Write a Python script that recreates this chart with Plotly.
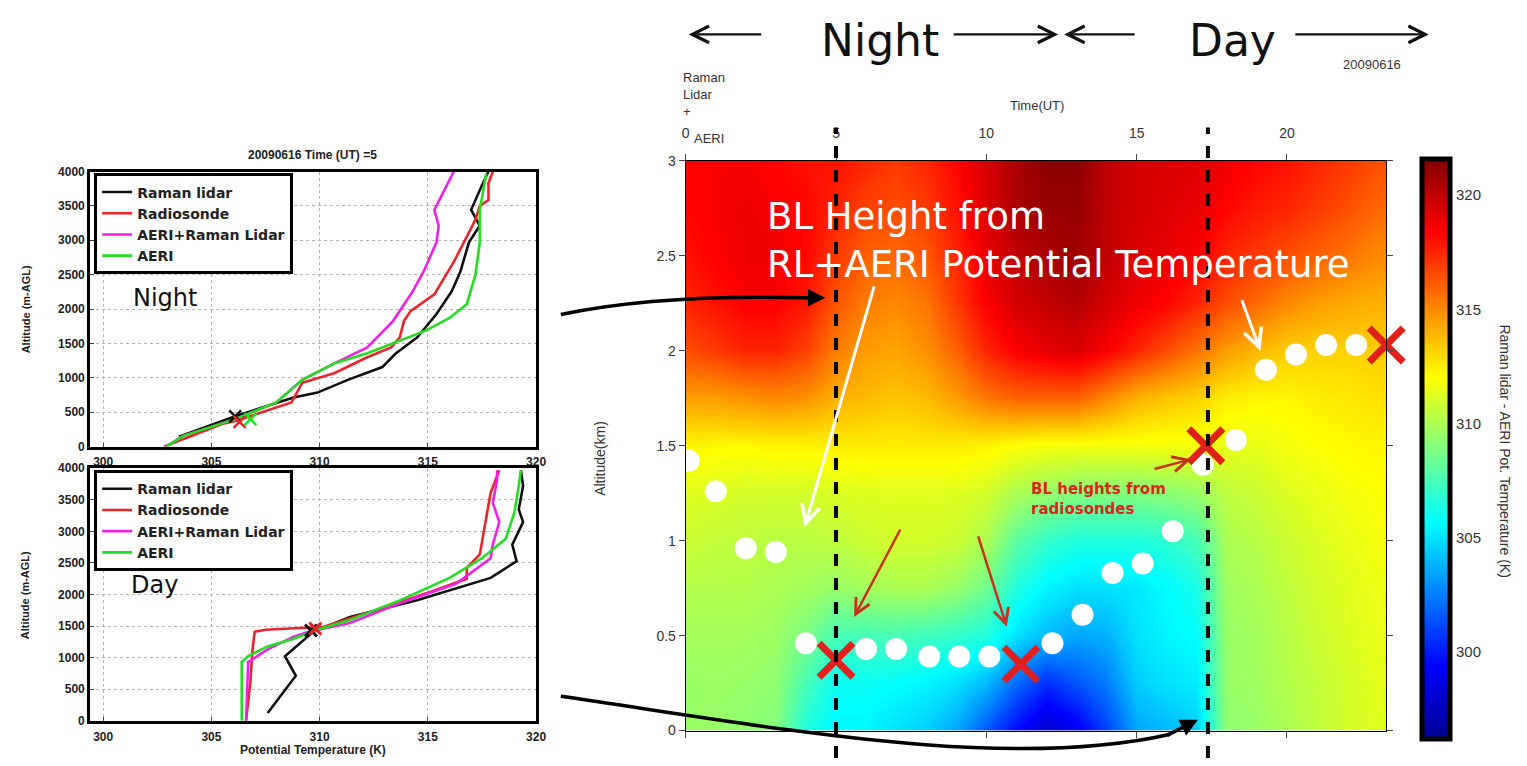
import plotly.graph_objects as go

W, H = 1527, 766
def px(x): return x / W
def py(y): return 1 - y / H

# ---------------- data: left panels (potential temperature profiles) ----------------
night_raman_T = [303.5, 306.1, 308.8, 309.9, 311.3, 312.9, 313.5, 314.5, 315.4, 316.1, 316.5, 316.9, 317.4, 317.0, 317.5, 317.8]
night_raman_z = [143, 443, 714, 786, 971, 1157, 1350, 1586, 1929, 2257, 2543, 2971, 3214, 3443, 3800, 4000]
night_sonde_T = [302.8, 304.0, 305.5, 306.2, 307.5, 308.7, 309.2, 310.7, 312.2, 313.3, 313.7, 313.9, 314.2, 315.3, 316.2, 316.9, 317.2, 317.4, 317.8, 317.8, 318.0]
night_sonde_z = [0, 150, 330, 380, 520, 643, 929, 1071, 1300, 1443, 1586, 1829, 1971, 2214, 2686, 3114, 3300, 3500, 3586, 3829, 4000]
night_aerirl_T = [302.9, 303.7, 306.1, 308.0, 309.2, 310.7, 312.2, 313.4, 314.3, 314.8, 315.4, 315.5, 315.3, 315.7, 316.2]
night_aerirl_z = [0, 157, 400, 643, 971, 1214, 1443, 1829, 2257, 2543, 2971, 3214, 3443, 3686, 4000]
night_aeri_T = [302.9, 303.7, 306.1, 308.0, 309.2, 310.7, 312.2, 313.7, 314.9, 316.0, 316.8, 317.2, 317.4, 317.4, 317.7]
night_aeri_z = [0, 157, 400, 643, 971, 1214, 1357, 1543, 1686, 1871, 2071, 2500, 2971, 3443, 3971]

day_raman_T = [307.6, 308.9, 308.4, 309.2, 309.7, 311.4, 314.5, 317.9, 319.1, 318.9, 319.4, 319.2, 319.4, 319.3]
day_raman_z = [124, 713, 1023, 1256, 1410, 1643, 1907, 2263, 2527, 2790, 3146, 3348, 3720, 3968]
day_sonde_T = [306.6, 306.8, 306.9, 307.0, 307.5, 309.2, 310.2, 313.0, 315.3, 316.8, 316.8, 317.4, 317.7, 317.9, 318.3]
day_sonde_z = [0, 620, 1131, 1410, 1442, 1470, 1490, 1798, 2062, 2248, 2418, 2635, 3193, 3611, 3968]
day_aerirl_T = [306.6, 306.7, 307.6, 308.8, 309.5, 311.4, 313.7, 316.3, 317.9, 318.0, 318.3, 318.0, 318.2, 318.2]
day_aerirl_z = [0, 930, 1131, 1333, 1410, 1550, 1860, 2170, 2573, 2790, 3146, 3456, 3813, 3968]
day_aeri_T = [306.4, 306.4, 306.7, 307.6, 308.7, 309.5, 309.9, 311.4, 313.7, 316.0, 317.5, 318.6, 319.0, 319.2, 319.3]
day_aeri_z = [0, 930, 1023, 1178, 1287, 1395, 1442, 1597, 1907, 2263, 2573, 2883, 3301, 3720, 3968]

series_names = ["Raman lidar", "Radiosonde", "AERI+Raman Lidar", "AERI"]
series_colors = ["#111111", "#e8262a", "#ee22e6", "#22dd22"]

# ---------------- data: right panel (time-height potential temperature) ----------------
hours = list(range(24))
alt_km = [0, 0.25, 0.5, 0.75, 1.0, 1.25, 1.5, 1.75, 2.0, 2.25, 2.5, 2.75, 3.0]
theta_by_hour = [
    [309.5, 309.5, 309.8, 310.2, 310.8, 311.3, 312.3, 314.5, 316.5, 317.5, 318.0, 318.3, 318.5],
    [309.5, 309.6, 309.8, 310.2, 310.6, 311.2, 312.2, 314.5, 317.0, 318.0, 318.5, 318.6, 318.6],
    [309.3, 309.5, 309.8, 310.2, 310.5, 311.0, 312.2, 314.8, 317.5, 318.5, 318.8, 318.8, 318.6],
    [309.0, 309.3, 309.6, 310.0, 310.4, 311.0, 312.3, 315.0, 317.5, 318.5, 318.8, 318.6, 318.3],
    [306.5, 307.5, 308.8, 309.8, 310.4, 311.0, 312.3, 314.8, 316.8, 317.8, 318.3, 318.3, 318.0],
    [305.5, 306.0, 307.5, 309.5, 310.5, 311.2, 312.5, 314.0, 315.3, 316.3, 317.0, 317.5, 318.0],
    [305.5, 306.0, 307.5, 309.8, 310.8, 311.3, 312.5, 313.8, 314.5, 315.3, 316.0, 316.8, 317.5],
    [305.0, 305.8, 307.5, 310.0, 311.0, 311.3, 312.5, 313.5, 314.3, 315.0, 315.8, 316.5, 317.0],
    [304.5, 305.5, 307.3, 310.0, 311.0, 311.3, 312.5, 313.8, 314.8, 315.5, 316.3, 317.0, 317.5],
    [303.5, 305.0, 307.0, 309.5, 310.8, 311.3, 312.5, 314.5, 316.0, 317.0, 317.5, 318.0, 318.3],
    [301.5, 304.0, 306.5, 308.5, 310.0, 311.0, 312.3, 315.5, 317.5, 318.5, 319.0, 319.3, 319.5],
    [299.5, 302.0, 305.0, 306.5, 308.0, 310.0, 312.0, 316.0, 318.5, 319.5, 320.0, 320.5, 320.5],
    [298.0, 300.5, 304.0, 305.5, 307.0, 309.5, 311.8, 316.0, 319.0, 320.0, 320.5, 321.0, 321.3],
    [299.0, 301.5, 303.5, 305.0, 306.5, 309.0, 311.8, 316.0, 319.3, 320.3, 320.8, 321.0, 321.3],
    [301.0, 302.5, 303.8, 305.0, 306.5, 309.0, 311.8, 315.0, 318.5, 319.5, 320.0, 320.0, 320.0],
    [303.5, 304.5, 305.0, 305.2, 306.5, 309.0, 311.8, 314.0, 317.5, 318.8, 319.3, 319.5, 319.5],
    [304.0, 305.0, 305.5, 305.7, 306.8, 309.2, 311.8, 313.5, 316.5, 318.3, 319.0, 319.2, 319.3],
    [304.5, 305.3, 305.8, 306.3, 307.5, 309.5, 311.8, 313.2, 315.5, 317.5, 318.5, 319.0, 319.2],
    [309.3, 309.5, 309.5, 309.7, 310.0, 310.5, 311.5, 312.5, 314.5, 316.5, 317.5, 318.3, 318.8],
    [309.5, 309.7, 309.8, 310.0, 310.3, 310.8, 311.5, 312.3, 313.8, 315.8, 317.0, 317.8, 318.3],
    [310.0, 310.2, 310.3, 310.5, 310.8, 311.2, 311.8, 312.3, 313.3, 315.0, 316.5, 317.5, 318.0],
    [310.5, 310.6, 310.8, 311.0, 311.2, 311.5, 312.0, 312.5, 313.2, 314.5, 316.0, 317.0, 317.5],
    [311.0, 311.0, 311.2, 311.3, 311.5, 311.8, 312.2, 312.6, 313.2, 314.2, 315.5, 316.5, 317.0],
    [311.3, 311.4, 311.5, 311.6, 311.8, 312.0, 312.3, 312.8, 313.3, 314.0, 315.0, 315.8, 316.5],
]
bl_rl_time = [0.1, 1.0, 2.0, 3.0, 4.0, 6.0, 7.0, 8.1, 9.1, 10.1, 12.2, 13.2, 14.2, 15.2, 16.2, 17.2, 18.3, 19.3, 20.3, 21.3, 22.3]
bl_rl_height = [1.42, 1.26, 0.96, 0.94, 0.46, 0.43, 0.43, 0.39, 0.39, 0.39, 0.46, 0.61, 0.83, 0.88, 1.05, 1.40, 1.53, 1.90, 1.98, 2.03, 2.03]
bl_sonde_time = [5.0, 11.15, 17.3, 23.3]
bl_sonde_height = [0.37, 0.35, 1.50, 2.03]
sonde_times = [5.0, 17.37]

z_grid = [list(row) for row in zip(*theta_by_hour)]  # rows = altitude, cols = hour

jet = [[0.0, "#00008f"], [0.125, "#0000ff"], [0.375, "#00ffff"], [0.625, "#ffff00"], [0.875, "#ff0000"], [1.0, "#800000"]]

fig = go.Figure()

panels = [
    ("x", "y", "legend", [(night_raman_T, night_raman_z), (night_sonde_T, night_sonde_z), (night_aerirl_T, night_aerirl_z), (night_aeri_T, night_aeri_z)]),
    ("x2", "y2", "legend2", [(day_raman_T, day_raman_z), (day_sonde_T, day_sonde_z), (day_aerirl_T, day_aerirl_z), (day_aeri_T, day_aeri_z)]),
]
for xa, ya, lg, curves in panels:
    for (T, z), name, col in zip(curves, series_names, series_colors):
        fig.add_trace(go.Scatter(x=T, y=z, mode="lines", name=name, line=dict(color=col, width=2.6),
                                 xaxis=xa, yaxis=ya, legend=lg))

fig.add_trace(go.Scatter(x=[306.1, 306.3, 306.8], y=[440, 360, 400], mode="markers", showlegend=False,
                         marker=dict(symbol="x-thin", size=12, line=dict(width=2.5, color=["#111111", "#e8262a", "#22dd22"])),
                         xaxis="x", yaxis="y"))
fig.add_trace(go.Scatter(x=[309.6, 309.8], y=[1430, 1460], mode="markers", showlegend=False,
                         marker=dict(symbol="x-thin", size=12, line=dict(width=3, color=["#111111", "#e8262a"])),
                         xaxis="x2", yaxis="y2"))

fig.add_trace(go.Heatmap(x=hours, y=alt_km, z=z_grid, zsmooth="best", colorscale=jet, zmin=296.2, zmax=321.6,
                         xaxis="x3", yaxis="y3", showscale=True,
                         colorbar=dict(x=px(1431), xanchor="left", xpad=0, ypad=0, y=py(450), yanchor="middle",
                                       lenmode="pixels", len=580, thickness=28, outlinewidth=5, outlinecolor="black",
                                       tickvals=[300, 305, 310, 315, 320], ticks="",
                                       tickfont=dict(family="Liberation Sans", size=15, color="#333"))))
fig.add_trace(go.Scatter(x=bl_rl_time, y=bl_rl_height, mode="markers", showlegend=False, cliponaxis=False,
                         marker=dict(size=22, color="white", line=dict(width=0)), xaxis="x3", yaxis="y3"))
fig.add_trace(go.Scatter(x=bl_sonde_time, y=bl_sonde_height, mode="markers", showlegend=False, cliponaxis=False,
                         marker=dict(symbol="x-thin", size=34, line=dict(width=7, color="#e0201c")), xaxis="x3", yaxis="y3"))

def left_x(standoff):
    return dict(range=[299.4, 320], tickvals=[300, 305, 310, 315, 320], showline=True, mirror=True, linewidth=3,
                linecolor="black", showgrid=True, gridcolor="#b5b5b5", griddash="dot", zeroline=False,
                ticks="inside", ticklen=4, ticklabelstandoff=standoff,
                tickfont=dict(family="Liberation Sans", size=12, color="#222", weight="bold"))
left_y = dict(range=[0, 4000], tickvals=list(range(0, 4001, 500)), showline=True, mirror=True, linewidth=3,
              linecolor="black", showgrid=True, gridcolor="#b5b5b5", griddash="dot", zeroline=False,
              ticks="inside", ticklen=4, tickfont=dict(family="Liberation Sans", size=12, color="#222", weight="bold"))

legend_style = dict(bgcolor="white", bordercolor="black", borderwidth=3, xanchor="left", yanchor="top",
                    font=dict(family="DejaVu Sans", size=14, color="#222", weight="bold"),
                    tracegroupgap=0)

fig.update_layout(
    width=W, height=H, margin=dict(l=0, r=0, t=0, b=0),
    paper_bgcolor="white", plot_bgcolor="white",
    xaxis=dict(domain=[px(87), px(537)], anchor="y", **left_x(2)),
    yaxis=dict(domain=[py(448), py(167)], anchor="x", **left_y),
    xaxis2=dict(domain=[px(87), px(537)], anchor="y2", **left_x(3)),
    yaxis2=dict(domain=[py(728), py(470)], anchor="x2", **left_y),
    xaxis3=dict(domain=[px(688), px(1395)], anchor="y3", range=[0, 23.3], side="top", tickvals=[0, 5, 10, 15, 20],
                showline=True, linecolor="black", linewidth=1, mirror="ticks", ticks="outside", ticklen=6,
                showgrid=False, zeroline=False, ticklabelstandoff=10,
                tickfont=dict(family="Liberation Sans", size=14, color="#333")),
    yaxis3=dict(domain=[py(738), py(156)], anchor="x3", range=[0, 3], tickvals=[0, 0.5, 1, 1.5, 2, 2.5, 3],
                ticktext=["0", "0.5", "1", "1.5", "2", "2.5", "3"],
                showline=True, linecolor="black", linewidth=1, mirror="ticks", ticks="outside", ticklen=6,
                showgrid=False, zeroline=False,
                tickfont=dict(family="Liberation Sans", size=14, color="#333")),
    legend=dict(x=px(91), y=py(169), **legend_style),
    legend2=dict(x=px(91), y=py(472), **legend_style),
)

shapes = []
for t in sonde_times:
    shapes.append(dict(type="line", xref="x3", yref="paper", x0=t, x1=t, y0=0, y1=py(122),
                       line=dict(color="black", width=4, dash="dash"), layer="above"))
top_curve = f"M{px(562)},{py(313)} Q{px(660)},{py(292)} {px(812)},{py(296)}"
bot_curve = f"M{px(562)},{py(703)} C{px(780)},{py(735)} {px(1010)},{py(780)} {px(1176)},{py(742)}"
for p in (top_curve, bot_curve):
    shapes.append(dict(type="path", xref="paper", yref="paper", path=p, line=dict(color="black", width=3.5)))
fig.update_layout(shapes=shapes)

ann = []
def text(x, y, s, size, color="#222", family="Liberation Sans", weight="normal", xanchor="center", align="center", angle=0):
    ann.append(dict(xref="paper", yref="paper", x=px(x), y=py(y), text=s, showarrow=False, xanchor=xanchor,
                    yanchor="middle", align=align, textangle=angle,
                    font=dict(family=family, size=size, color=color, weight=weight)))
def arrow(hx, hy, tx, ty, color, width, head=5, size=1.2):
    ann.append(dict(xref="paper", yref="paper", x=px(hx), y=py(hy), ax=tx - hx, ay=ty - hy, text="",
                    showarrow=True, arrowhead=head, arrowsize=size, arrowwidth=width, arrowcolor=color, standoff=0))

text(311, 150, "20090616 Time (UT) =5", 12, weight="bold")
text(22, 308, "Altitude (m-AGL)", 11, weight="bold", angle=-90)
text(22, 600, "Altitude (m-AGL)", 11, weight="bold", angle=-90)
text(312, 758, "Potential Temperature (K)", 12, weight="bold")
text(162, 296, "Night", 24, color="#111", family="DejaVu Sans")
text(152, 589, "Day", 24, color="#111", family="DejaVu Sans")

text(884, 33, "Night", 44, color="#111", family="DejaVu Sans")
text(1240, 33, "Day", 44, color="#111", family="DejaVu Sans")
arrow(691, 27, 765, 27, "#111", 2.2, size=1.5)
arrow(1064, 27, 958, 27, "#111", 2.2, size=1.5)
arrow(1070, 27, 1142, 27, "#111", 2.2, size=1.5)
arrow(1438, 27, 1303, 27, "#111", 2.2, size=1.5)
text(683, 88, "Raman<br>Lidar<br>+", 13, color="#333", xanchor="left", align="left")
text(694, 133, "AERI", 13, color="#333", xanchor="left", align="left")
text(1381, 58, "20090616", 13, color="#333")
text(1043, 100, "Time(UT)", 13, color="#333")
text(602, 460, "Altitude(km)", 14, color="#333", angle=-90)
text(1515, 452, "Raman lidar - AERI Pot. Temperature (K)", 14, color="#333", angle=90)

text(768, 237, "BL Height from<br>RL+AERI Potential Temperature", 37, color="white", family="DejaVu Sans",
     xanchor="left", align="left")
arrow(808, 530, 878, 288, "white", 3)
arrow(1268, 350, 1249, 298, "white", 3)
text(1034, 501, "BL heights from<br>radiosondes", 15, color="#d8261c", family="DejaVu Sans", weight="bold",
     xanchor="left", align="left")
arrow(858, 622, 905, 533, "#c8321c", 2.5)
arrow(1012, 632, 983, 540, "#c8321c", 2.5)
arrow(1198, 461, 1160, 471, "#c8321c", 2.5)

arrow(829, 296, 808, 296, "black", 3.5, head=2, size=1)
arrow(1205, 727, 1173, 743, "black", 3.5, head=2, size=1)

fig.update_layout(annotations=ann)

fig.write_html("out.html")
